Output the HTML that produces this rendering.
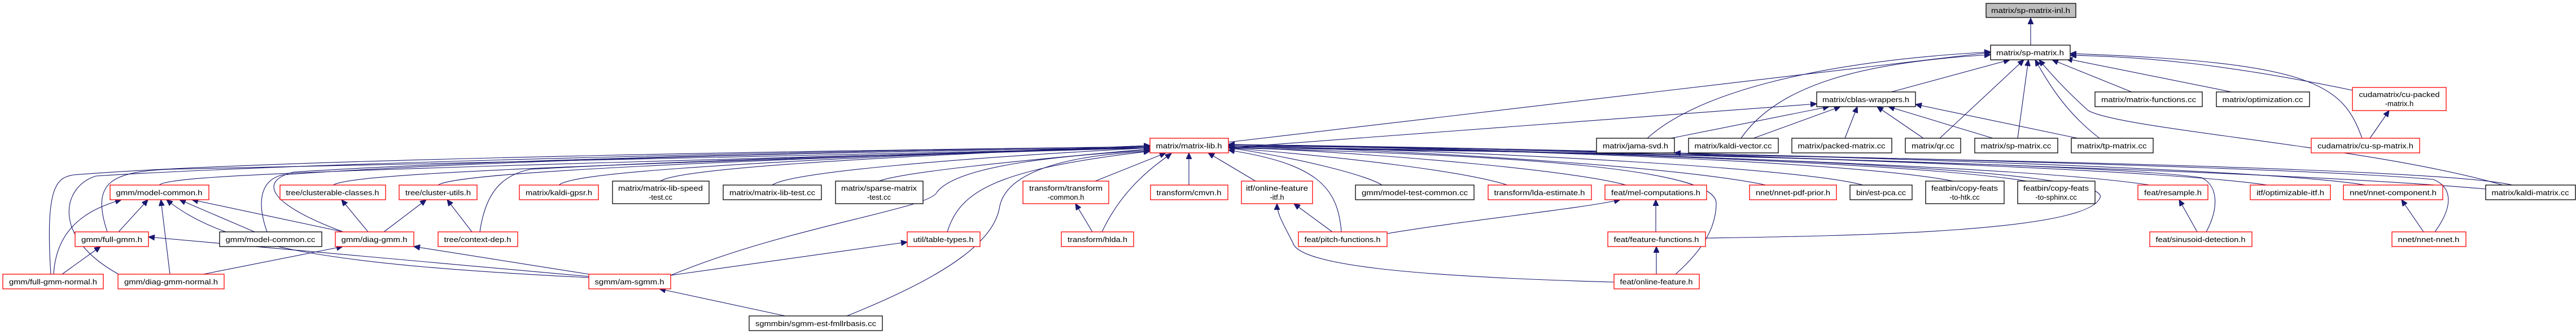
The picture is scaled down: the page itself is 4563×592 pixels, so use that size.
<!DOCTYPE html>
<html><head><meta charset="utf-8"><style>
html,body{margin:0;padding:0;background:#fff;}
svg{display:block;}
text{font-family:"Liberation Sans","DejaVu Sans",sans-serif;font-size:13px;fill:#000;}
.r{fill:#fff;stroke:#ff0000;stroke-width:1.3;}
.b{fill:#fff;stroke:#000;stroke-width:1.3;}
.g{fill:#bfbfbf;stroke:#000;stroke-width:1.3;}
path.e{fill:none;stroke:#191970;stroke-width:1.1;marker-end:url(#a);}
</style></head><body>
<svg width="4563" height="592" viewBox="0 0 4563 592" xmlns="http://www.w3.org/2000/svg">
<defs><marker id="a" markerUnits="userSpaceOnUse" markerWidth="12" markerHeight="10" refX="11" refY="5" orient="auto"><path d="M0,0 L11,5 L0,10 z" fill="#191970" stroke="#191970"/></marker></defs>
<g>
<!-- top -->
<path class="e" d="M3597 80 L3597 32"/>
<path class="e" d="M2176 252 L3526 93"/>
<path class="e" d="M2176 262 L3218 184"/>
<path class="e" d="M3350 163 L3560 106"/>
<path class="e" d="M2918 245 C3000 170 3200 110 3526 92"/>
<path class="e" d="M3084 245 C3150 150 3300 110 3526 97"/>
<path class="e" d="M3436 245 L3585 106"/>
<path class="e" d="M3574 245 L3593 106"/>
<path class="e" d="M3719 245 C3660 200 3630 150 3605 106"/>
<path class="e" d="M3776 163 L3635 106"/>
<path class="e" d="M3953 163 L3660 104"/>
<path class="e" d="M4167 160 C3950 115 3800 100 3667 98"/>
<path class="e" d="M4184 245 C4150 150 4100 110 3667 95"/>
<path class="e" d="M4198 245 L4232 196"/>
<path class="e" d="M4433 328 C4200 260 3760 230 3699 196 C3670 170 3640 140 3612 106"/>
<path class="e" d="M2960 245 L3240 189"/>
<path class="e" d="M3106 245 L3260 189"/>
<path class="e" d="M3268 245 L3290 189"/>
<path class="e" d="M3407 245 L3325 189"/>
<path class="e" d="M3530 245 L3345 189"/>
<path class="e" d="M3680 245 L3393 185"/>
<path class="e" d="M4403 335 C4000 300 3200 285 2966 271"/>
<!-- left row4 to mlib -->
<path class="e" d="M282 328 C300 310 600 300 2037 262"/>
<path class="e" d="M590 328 C620 310 900 295 2037 262"/>
<path class="e" d="M776 328 C800 310 1100 290 2037 260"/>
<path class="e" d="M990 328 C1010 310 1200 290 2037 258"/>
<path class="e" d="M1170 321 C1200 300 1500 280 2037 258"/>
<path class="e" d="M1368 328 C1400 305 1700 280 2037 262"/>
<path class="e" d="M1557 321 C1600 305 1800 285 2037 264"/>
<path class="e" d="M1940 321 L2065 271"/>
<path class="e" d="M2106 328 L2106 271"/>
<path class="e" d="M2224 321 L2140 271"/>
<!-- rows 5/6 left to mlib -->
<path class="e" d="M190 411 C160 320 200 305 300 300 C1200 280 1800 265 2037 262"/>
<path class="e" d="M90 486 C80 330 100 315 130 310 C500 280 1600 265 2037 260"/>
<path class="e" d="M210 486 C90 420 110 330 170 312 C600 285 1600 265 2037 260"/>
<path class="e" d="M473 411 C455 360 460 320 500 310 C900 280 1700 265 2037 262"/>
<path class="e" d="M608 411 C470 360 460 320 520 305 C900 280 1700 265 2037 262"/>
<path class="e" d="M850 411 C860 340 890 310 940 300 C1300 280 1800 268 2037 262"/>
<path class="e" d="M1188 488 C1400 400 1650 370 1660 340 C1700 290 1900 275 2037 266"/>
<path class="e" d="M1678 411 C1700 340 1760 300 2037 268"/>
<path class="e" d="M1500 560 C1700 480 1760 420 1770 370 C1780 300 1900 275 2037 268"/>
<path class="e" d="M1952 411 C1990 330 2050 290 2075 272"/>
<path class="e" d="M1935 411 L1905 361"/>
<!-- right row4 to mlib -->
<path class="e" d="M2448 328 C2420 310 2300 280 2176 262"/>
<path class="e" d="M2670 328 C2600 305 2400 280 2176 262"/>
<path class="e" d="M2880 328 C2800 305 2500 275 2176 260"/>
<path class="e" d="M3128 328 C3000 300 2600 270 2176 258"/>
<path class="e" d="M3300 328 C3200 300 2700 270 2176 258"/>
<path class="e" d="M3460 321 C3300 290 2800 268 2176 256"/>
<path class="e" d="M3590 321 C3400 290 2800 268 2176 256"/>
<path class="e" d="M3808 328 C3600 295 2800 268 2176 256"/>
<path class="e" d="M4016 328 C3800 295 2800 265 2176 256"/>
<path class="e" d="M4190 328 C4000 295 2900 265 2176 256"/>
<path class="e" d="M4450 328 C4300 290 2800 270 2176 262"/>
<!-- right lower -->
<path class="e" d="M2376 411 C2370 330 2330 290 2176 266"/>
<path class="e" d="M2360 411 L2292 361"/>
<path class="e" d="M2457 414 C2600 390 2800 370 2870 354"/>
<path class="e" d="M2933 411 L2933 354"/>
<path class="e" d="M2934 486 L2934 437"/>
<path class="e" d="M2859 500 C2500 490 2300 470 2290 430 C2275 400 2262 380 2262 361"/>
<path class="e" d="M2968 486 C3020 440 3040 400 3040 360 C3040 300 2700 275 2176 262"/>
<path class="e" d="M3021 422 C3300 418 3700 410 3720 350 C3740 300 3000 270 2176 260"/>
<path class="e" d="M3892 411 L3860 354"/>
<path class="e" d="M3908 411 C3930 370 3930 330 3900 315 C3700 285 2500 265 2176 260"/>
<path class="e" d="M4293 411 L4254 354"/>
<path class="e" d="M4313 411 C4350 360 4340 330 4310 318 C4000 290 2600 262 2176 258"/>
<!-- left cluster -->
<path class="e" d="M210 411 L262 354"/>
<path class="e" d="M95 486 C100 400 160 370 215 354"/>
<path class="e" d="M301 486 L285 354"/>
<path class="e" d="M451 411 L318 354"/>
<path class="e" d="M608 411 L340 354"/>
<path class="e" d="M1043 492 C600 470 400 440 295 354"/>
<path class="e" d="M110 486 L178 437"/>
<path class="e" d="M360 486 L607 437"/>
<path class="e" d="M1043 490 L263 420"/>
<path class="e" d="M1043 486 L733 437"/>
<path class="e" d="M1188 488 L1607 429"/>
<path class="e" d="M1391 560 L1168 512"/>
<path class="e" d="M652 411 L605 354"/>
<path class="e" d="M680 411 L755 354"/>
<path class="e" d="M836 411 L792 354"/>
</g>
<g text-anchor="middle">
<rect class="g" x="3518" y="6" width="159" height="25"/><text x="3597" y="23" textLength="140" lengthAdjust="spacingAndGlyphs">matrix/sp-matrix-inl.h</text>
<rect class="b" x="3526" y="80" width="141" height="26"/><text x="3596" y="98" textLength="120" lengthAdjust="spacingAndGlyphs">matrix/sp-matrix.h</text>
<rect class="b" x="3218" y="163" width="175" height="26"/><text x="3305" y="181" textLength="154" lengthAdjust="spacingAndGlyphs">matrix/cblas-wrappers.h</text>
<rect class="b" x="3711" y="163" width="190" height="26"/><text x="3806" y="181" textLength="168" lengthAdjust="spacingAndGlyphs">matrix/matrix-functions.cc</text>
<rect class="b" x="3926" y="163" width="165" height="26"/><text x="4008" y="181" textLength="143" lengthAdjust="spacingAndGlyphs">matrix/optimization.cc</text>
<rect class="r" x="4167" y="155" width="166" height="41"/><text x="4250" y="172" textLength="143" lengthAdjust="spacingAndGlyphs">cudamatrix/cu-packed</text><text x="4250" y="188">-matrix.h</text>
<rect class="r" x="2037" y="245" width="139" height="26"/><text x="2106" y="263" textLength="117" lengthAdjust="spacingAndGlyphs">matrix/matrix-lib.h</text>
<rect class="b" x="2828" y="245" width="138" height="26"/><text x="2897" y="263" textLength="116" lengthAdjust="spacingAndGlyphs">matrix/jama-svd.h</text>
<rect class="b" x="2991" y="245" width="159" height="26"/><text x="3070" y="263" textLength="137" lengthAdjust="spacingAndGlyphs">matrix/kaldi-vector.cc</text>
<rect class="b" x="3174" y="245" width="177" height="26"/><text x="3262" y="263" textLength="155" lengthAdjust="spacingAndGlyphs">matrix/packed-matrix.cc</text>
<rect class="b" x="3375" y="245" width="98" height="26"/><text x="3424" y="263" textLength="76" lengthAdjust="spacingAndGlyphs">matrix/qr.cc</text>
<rect class="b" x="3498" y="245" width="147" height="26"/><text x="3571" y="263" textLength="125" lengthAdjust="spacingAndGlyphs">matrix/sp-matrix.cc</text>
<rect class="b" x="3669" y="245" width="145" height="26"/><text x="3741" y="263" textLength="123" lengthAdjust="spacingAndGlyphs">matrix/tp-matrix.cc</text>
<rect class="r" x="4094" y="245" width="192" height="26"/><text x="4190" y="263" textLength="170" lengthAdjust="spacingAndGlyphs">cudamatrix/cu-sp-matrix.h</text>

<rect class="r" x="195" y="328" width="175" height="26"/><text x="282" y="346" textLength="153" lengthAdjust="spacingAndGlyphs">gmm/model-common.h</text>
<rect class="r" x="496" y="328" width="187" height="26"/><text x="589" y="346" textLength="165" lengthAdjust="spacingAndGlyphs">tree/clusterable-classes.h</text>
<rect class="r" x="707" y="328" width="138" height="26"/><text x="776" y="346" textLength="116" lengthAdjust="spacingAndGlyphs">tree/cluster-utils.h</text>
<rect class="r" x="920" y="328" width="140" height="26"/><text x="990" y="346" textLength="118" lengthAdjust="spacingAndGlyphs">matrix/kaldi-gpsr.h</text>
<rect class="b" x="1085" y="321" width="171" height="40"/><text x="1170" y="338" textLength="150" lengthAdjust="spacingAndGlyphs">matrix/matrix-lib-speed</text><text x="1170" y="354">-test.cc</text>
<rect class="b" x="1281" y="328" width="174" height="26"/><text x="1368" y="346" textLength="152" lengthAdjust="spacingAndGlyphs">matrix/matrix-lib-test.cc</text>
<rect class="b" x="1480" y="321" width="155" height="40"/><text x="1557" y="338" textLength="134" lengthAdjust="spacingAndGlyphs">matrix/sparse-matrix</text><text x="1557" y="354">-test.cc</text>
<rect class="r" x="1812" y="321" width="152" height="40"/><text x="1888" y="338" textLength="130" lengthAdjust="spacingAndGlyphs">transform/transform</text><text x="1888" y="354">-common.h</text>
<rect class="r" x="2038" y="328" width="137" height="26"/><text x="2106" y="346" textLength="115" lengthAdjust="spacingAndGlyphs">transform/cmvn.h</text>
<rect class="r" x="2199" y="321" width="126" height="40"/><text x="2262" y="338" textLength="110" lengthAdjust="spacingAndGlyphs">itf/online-feature</text><text x="2262" y="354">-itf.h</text>
<rect class="b" x="2401" y="328" width="210" height="26"/><text x="2506" y="346" textLength="188" lengthAdjust="spacingAndGlyphs">gmm/model-test-common.cc</text>
<rect class="r" x="2636" y="328" width="183" height="26"/><text x="2727" y="346" textLength="161" lengthAdjust="spacingAndGlyphs">transform/lda-estimate.h</text>
<rect class="r" x="2843" y="328" width="180" height="26"/><text x="2933" y="346" textLength="158" lengthAdjust="spacingAndGlyphs">feat/mel-computations.h</text>
<rect class="r" x="3099" y="328" width="154" height="26"/><text x="3176" y="346" textLength="132" lengthAdjust="spacingAndGlyphs">nnet/nnet-pdf-prior.h</text>
<rect class="b" x="3277" y="328" width="110" height="26"/><text x="3332" y="346" textLength="88" lengthAdjust="spacingAndGlyphs">bin/est-pca.cc</text>
<rect class="b" x="3411" y="321" width="139" height="40"/><text x="3480" y="338" textLength="118" lengthAdjust="spacingAndGlyphs">featbin/copy-feats</text><text x="3480" y="354">-to-htk.cc</text>
<rect class="b" x="3574" y="321" width="137" height="40"/><text x="3642" y="338" textLength="116" lengthAdjust="spacingAndGlyphs">featbin/copy-feats</text><text x="3642" y="354">-to-sphinx.cc</text>
<rect class="r" x="3787" y="328" width="124" height="26"/><text x="3849" y="346" textLength="102" lengthAdjust="spacingAndGlyphs">feat/resample.h</text>
<rect class="r" x="3986" y="328" width="142" height="26"/><text x="4057" y="346" textLength="120" lengthAdjust="spacingAndGlyphs">itf/optimizable-itf.h</text>
<rect class="r" x="4151" y="328" width="176" height="26"/><text x="4239" y="346" textLength="154" lengthAdjust="spacingAndGlyphs">nnet/nnet-component.h</text>
<rect class="b" x="4403" y="328" width="159" height="26"/><text x="4482" y="346" textLength="137" lengthAdjust="spacingAndGlyphs">matrix/kaldi-matrix.cc</text>

<rect class="r" x="133" y="411" width="130" height="26"/><text x="198" y="429" textLength="108" lengthAdjust="spacingAndGlyphs">gmm/full-gmm.h</text>
<rect class="b" x="389" y="411" width="181" height="26"/><text x="479" y="429" textLength="159" lengthAdjust="spacingAndGlyphs">gmm/model-common.cc</text>
<rect class="r" x="594" y="411" width="139" height="26"/><text x="663" y="429" textLength="117" lengthAdjust="spacingAndGlyphs">gmm/diag-gmm.h</text>
<rect class="r" x="776" y="411" width="141" height="26"/><text x="846" y="429" textLength="119" lengthAdjust="spacingAndGlyphs">tree/context-dep.h</text>
<rect class="r" x="1607" y="411" width="129" height="26"/><text x="1671" y="429" textLength="107" lengthAdjust="spacingAndGlyphs">util/table-types.h</text>
<rect class="r" x="1880" y="411" width="128" height="26"/><text x="1944" y="429" textLength="106" lengthAdjust="spacingAndGlyphs">transform/hlda.h</text>
<rect class="r" x="2300" y="411" width="157" height="26"/><text x="2378" y="429" textLength="135" lengthAdjust="spacingAndGlyphs">feat/pitch-functions.h</text>
<rect class="r" x="2848" y="411" width="173" height="26"/><text x="2934" y="429" textLength="151" lengthAdjust="spacingAndGlyphs">feat/feature-functions.h</text>
<rect class="r" x="3808" y="411" width="181" height="26"/><text x="3898" y="429" textLength="159" lengthAdjust="spacingAndGlyphs">feat/sinusoid-detection.h</text>
<rect class="r" x="4237" y="411" width="131" height="26"/><text x="4302" y="429" textLength="109" lengthAdjust="spacingAndGlyphs">nnet/nnet-nnet.h</text>

<rect class="r" x="5" y="486" width="178" height="26"/><text x="94" y="504" textLength="156" lengthAdjust="spacingAndGlyphs">gmm/full-gmm-normal.h</text>
<rect class="r" x="209" y="486" width="188" height="26"/><text x="303" y="504" textLength="166" lengthAdjust="spacingAndGlyphs">gmm/diag-gmm-normal.h</text>
<rect class="r" x="1043" y="486" width="145" height="26"/><text x="1115" y="504" textLength="123" lengthAdjust="spacingAndGlyphs">sgmm/am-sgmm.h</text>
<rect class="r" x="2859" y="486" width="151" height="26"/><text x="2934" y="504" textLength="129" lengthAdjust="spacingAndGlyphs">feat/online-feature.h</text>
<rect class="b" x="1327" y="560" width="236" height="26"/><text x="1445" y="578" textLength="214" lengthAdjust="spacingAndGlyphs">sgmmbin/sgmm-est-fmllrbasis.cc</text>
</g>
</svg>
</body></html>
